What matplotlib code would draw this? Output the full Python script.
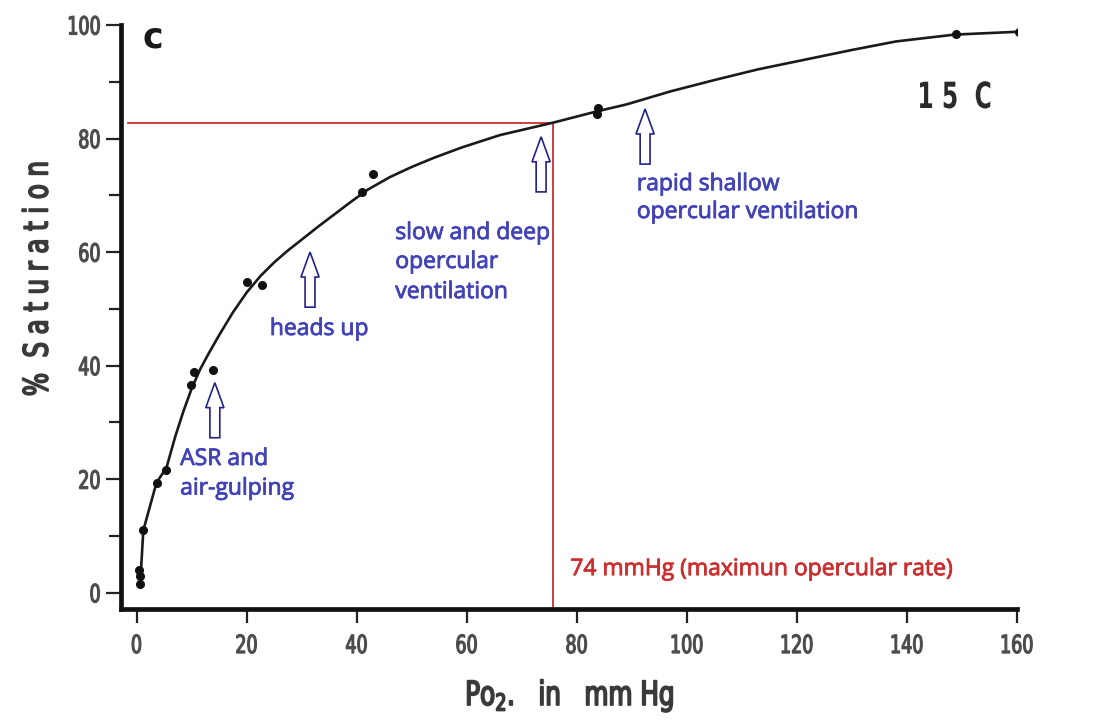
import matplotlib
matplotlib.use("Agg")
import matplotlib.pyplot as plt
from matplotlib.patches import FancyArrow
from matplotlib.ticker import MultipleLocator
from matplotlib.patheffects import AbstractPathEffect
from matplotlib.transforms import Affine2D
import matplotlib.patheffects as pe

# ---------------- data ----------------
po2_obs = [0.6, 0.6, 0.5, 1.2, 3.6, 5.4, 9.9, 10.5, 13.8, 20.0, 22.8, 40.9, 43.0, 83.6, 83.8, 149.0, 160.3]
sat_obs = [1.5, 3.0, 4.0, 11.0, 19.4, 21.7, 36.6, 38.9, 39.2, 54.8, 54.2, 70.5, 73.8, 84.3, 85.3, 98.4, 98.7]

po2_curve = [0.6, 1.2, 3.6, 5.4, 7.0, 8.5, 10.0, 11.5, 13.0, 15.0, 17.5, 20.0, 22.5, 25.0,
             27.5, 30.0, 33.0, 36.0, 39.0, 42.0, 46.0, 50.0, 54.0, 59.0, 66.0, 75.7,
             83.7, 89.0, 97.0, 105.0, 113.0, 121.5, 130.0, 138.0, 148.6, 160.0]
sat_curve = [1.0, 11.0, 19.4, 22.0, 27.5, 32.0, 36.0, 39.3, 42.0, 45.4, 49.4, 52.9, 55.8, 58.2,
             60.3, 62.2, 64.5, 66.7, 68.9, 71.0, 73.2, 75.0, 76.6, 78.4, 80.6, 82.8,
             84.8, 86.0, 88.3, 90.3, 92.2, 93.9, 95.6, 97.1, 98.3, 98.8]

x_ticks = [0, 20, 40, 60, 80, 100, 120, 140, 160]
y_ticks = [0, 20, 40, 60, 80, 100]

ref_po2 = 75.7   # red marker line position on the axis
ref_sat = 82.8

arrow_po2 = [14.2, 31.5, 73.5, 92.4]
arrow_tip = [37.0, 60.0, 80.3, 85.2]

labels_blue = [
    (["ASR and", "air-gulping"], 7.9, [22.5, 17.3]),
    (["heads up"], 24.2, [45.4]),
    (["slow and deep", "opercular", "ventilation"], 47.0, [62.3, 57.2, 51.9]),
    (["rapid shallow", "opercular ventilation"], 90.9, [70.9, 66.0]),
]
red_label = "74 mmHg (maximun opercular rate)"


# ---------------- helpers ----------------
class Squeeze(AbstractPathEffect):
    """Horizontally condense text glyphs (emulates a condensed typeface),
    optionally with a thin outline to make it heavier."""

    def __init__(self, sx, anchor=0.0, stroke=0.0):
        super().__init__()
        self.sx = sx
        self.anchor = anchor
        self.stroke = stroke

    def draw_path(self, renderer, gc, tpath, affine, rgbFace=None):
        ext = tpath.get_extents()
        w = ext.x1
        dx = self.anchor * (1 - self.sx) * w
        new = Affine2D().scale(self.sx, 1).translate(dx, 0) + affine
        if self.stroke > 0 and rgbFace is not None:
            gc0 = renderer.new_gc()
            gc0.copy_properties(gc)
            gc0.set_linewidth(self.stroke)
            gc0.set_foreground(rgbFace)
            renderer.draw_path(gc0, tpath, new, rgbFace)
            gc0.restore()
        else:
            renderer.draw_path(gc, tpath, new, rgbFace)


SANS = ["DejaVu Sans"]
CALI = ["Open Sans", "DejaVu Sans"]

BLUE = "#4343b8"
RED = "#cc2f2f"
ARROW = "#22228a"
GRAY = "#4c4c4c"

fig = plt.figure(figsize=(11.11, 7.24), dpi=100)
fig.patch.set_facecolor("white")
ax = fig.add_axes([0.1085, 0.1588, 0.8069, 0.8067])

ax.set_xlim(-2.94, 160)
ax.set_ylim(-2.87, 100)

for s in ["top", "right"]:
    ax.spines[s].set_visible(False)
for s in ["left", "bottom"]:
    ax.spines[s].set_linewidth(3.4)
    ax.spines[s].set_color("#111111")

ax.set_xticks(x_ticks)
ax.set_yticks(y_ticks)
ax.yaxis.set_minor_locator(MultipleLocator(10))
ax.tick_params(axis="both", which="major", direction="out", width=1.6, color="#222222")
ax.tick_params(axis="y", which="major", length=11, pad=3)
ax.tick_params(axis="y", which="minor", length=9, width=1.6, color="#222222")
ax.tick_params(axis="x", which="major", length=10, pad=8)
for lab in ax.get_xticklabels():
    lab.set_fontfamily(SANS)
    lab.set_fontsize(18)
    lab.set_color(GRAY)
    lab.set_path_effects([Squeeze(0.7, 0.5, stroke=0.9)])
for lab in ax.get_yticklabels():
    lab.set_fontfamily(SANS)
    lab.set_fontsize(18)
    lab.set_color(GRAY)
    lab.set_path_effects([Squeeze(0.7, 1.0, stroke=0.9)])

# curve and observations
ax.plot(po2_curve, sat_curve, color="#1a1a1a", lw=1.9, zorder=3,
        solid_joinstyle="round", solid_capstyle="round")
ax.plot(po2_obs, sat_obs, "o", color="#111111", ms=5.5, zorder=4)

# red reference lines
ax.plot([-1.6, ref_po2, ref_po2], [ref_sat, ref_sat, -2.87], color=RED, lw=1.3, zorder=2,
        clip_on=False)
stroke_red = [pe.withStroke(linewidth=0.6, foreground=RED)]
ax.text(78.8, 3.1, red_label, color=RED, fontsize=16.5, family=CALI, va="baseline",
        ha="left", path_effects=stroke_red)

# hollow arrows
for x, tip in zip(arrow_po2, arrow_tip):
    base = tip - 9.7
    arr = FancyArrow(x, base, 0, tip - base, width=1.8, head_width=3.3, head_length=4.4,
                     length_includes_head=True, facecolor="white", edgecolor=ARROW,
                     lw=1.2, zorder=5)
    ax.add_patch(arr)

# blue annotations
stroke_blue = [pe.withStroke(linewidth=0.6, foreground=BLUE)]
for lines, x, ys in labels_blue:
    for line, y in zip(lines, ys):
        ax.text(x, y, line, color=BLUE, fontsize=16.5, family=CALI, va="baseline",
                ha="left", path_effects=stroke_blue)

# panel letters
fig.text(153 / 1111, 1 - 37 / 724, "c", family=SANS, fontweight="bold", fontsize=25,
         color="#1a1a1a", ha="center", va="center")
fig.text(955 / 1111, 1 - 98 / 724, "1 5  C", family=SANS, fontweight="bold",
         fontsize=26, color="#2a2a2a", ha="center", va="center",
         path_effects=[Squeeze(0.65, 0.5)])

# axis labels
fig.text(570 / 1111, 19 / 724, r"Po$_2$.   in   mm Hg", family=SANS, fontsize=24,
         color="#3a3a3a", ha="center", va="baseline",
         path_effects=[Squeeze(0.74, 0.5, stroke=1.3)])
fig.text(38 / 1111, 1 - 278 / 724, "%  S a t u r a t i o n", family=SANS, fontsize=24,
         color="#3a3a3a", rotation=90, ha="center", va="center",
         path_effects=[Squeeze(0.73, 0.5, stroke=1.3)])

fig.savefig("out.png", dpi=100, facecolor="white")
